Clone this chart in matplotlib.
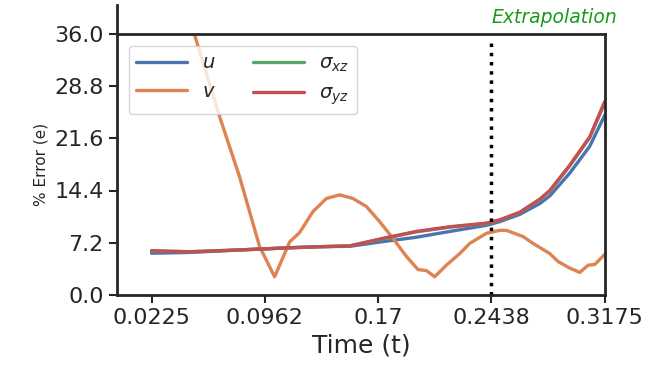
import matplotlib
matplotlib.use('Agg')
import matplotlib.pyplot as plt
import seaborn as sns
import numpy as np

sns.set_style('ticks')
plt.rcParams['font.family'] = ['DejaVu Sans']

# error curves
t_u = [0.0225, 0.0472, 0.0798, 0.1124, 0.132, 0.1514, 0.1731, 0.1948, 0.2166,
       0.2405, 0.2491, 0.2621, 0.2752, 0.2817, 0.2947, 0.3077, 0.3175]
err_u = [5.75, 5.85, 6.2, 6.5, 6.65, 6.7, 7.35, 7.95, 8.75,
         9.6, 10.1, 11.1, 12.6, 13.65, 16.8, 20.5, 24.8]
err_yz = [6.1, 5.95, 6.2, 6.5, 6.65, 6.75, 7.8, 8.75, 9.4,
          9.9, 10.35, 11.4, 13.2, 14.4, 17.9, 21.8, 26.7]
err_xz = [6.05, 5.95, 6.2, 6.5, 6.65, 6.75, 7.75, 8.7, 9.35,
          9.85, 10.3, 11.35, 13.15, 14.3, 17.8, 21.7, 26.5]

t_v = [0.0225, 0.035, 0.0505, 0.0581, 0.0668, 0.0798, 0.0928, 0.1026, 0.1124,
       0.1189, 0.1276, 0.1363, 0.1449, 0.1536, 0.1623, 0.1710, 0.1796, 0.1884,
       0.1959, 0.2014, 0.2068, 0.2144, 0.2231, 0.2296, 0.2405, 0.2491, 0.2535,
       0.2643, 0.2708, 0.2817, 0.2871, 0.2947, 0.3012, 0.3067, 0.3110, 0.3175]
err_v = [54.0, 46.0, 35.9, 30.6, 24.6, 16.3, 6.7, 2.5, 7.3,
         8.6, 11.5, 13.3, 13.8, 13.3, 12.2, 10.1, 7.8, 5.3,
         3.5, 3.35, 2.5, 4.1, 5.7, 7.1, 8.5, 8.9, 8.9,
         8.05, 7.1, 5.7, 4.6, 3.7, 3.1, 4.1, 4.2, 5.6]

xticks = np.linspace(0.0225, 0.3175, 5)
xtick_labels = ['0.0225', '0.0962', '0.17', '0.2438', '0.3175']
yticks = [0.0, 7.2, 14.4, 21.6, 28.8, 36.0]
t_split = 0.24375

fig = plt.figure(figsize=(6.72, 3.81), dpi=100)
ax = fig.add_axes([0.174, 0.226, 0.726, 0.685])

lw = 2.4
ax.plot(t_u, err_u, color='#4c72b0', lw=lw, label='$u$')
ax.plot(t_v, err_v, color='#dd8452', lw=lw, label='$v$')
ax.plot(t_u, err_xz, color='#55a868', lw=lw, label=r'$\sigma_{xz}$')
ax.plot(t_u, err_yz, color='#c44e52', lw=lw, label=r'$\sigma_{yz}$')

ax.vlines(t_split, 0, 35.4, colors='black', linestyles=':', lw=2.5)
ax.text(t_split, 36.9, 'Extrapolation', color='#1a9a1a', fontstyle='italic',
        fontsize=13.5, ha='left', va='bottom', clip_on=False)

ax.set_xlim(0, 0.3175)
ax.set_ylim(0, 36)
ax.set_xticks(xticks)
ax.set_xticklabels(xtick_labels)
ax.set_yticks(yticks)
ax.set_yticklabels(['%.1f' % v for v in yticks])
ax.tick_params(labelsize=16, length=6, width=1.5, color='#262626')
for s in ax.spines.values():
    s.set_linewidth(2)
    s.set_color('#262626')
ax.spines['left'].set_bounds(0, 40)

ax.set_xlabel('Time (t)', fontsize=18)
ax.set_ylabel('% Error (e)', fontsize=11)

leg = ax.legend(loc='upper left', ncol=2, fontsize=14, handlelength=2.6,
                columnspacing=1.9, borderaxespad=0.6)

plt.savefig('out.png', dpi=100)
